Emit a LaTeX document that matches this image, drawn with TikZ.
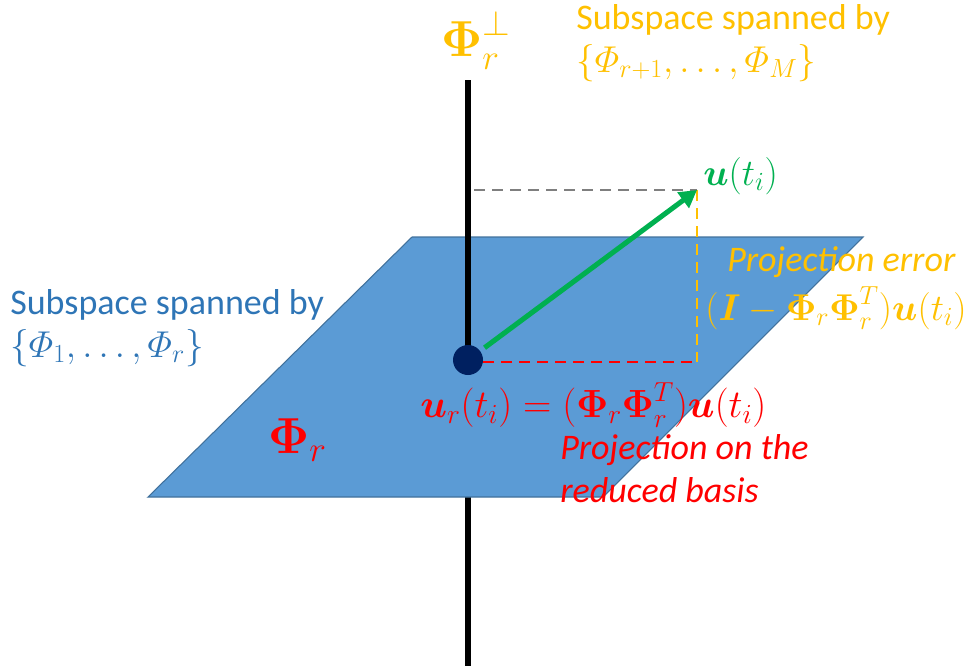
\RequirePackage{fix-cm}
\documentclass[tikz,border=0pt]{standalone}
\usepackage{amsmath,bm}
\usepackage{fontspec}
\setmainfont{Carlito}
\usetikzlibrary{arrows.meta}
\definecolor{myorange}{HTML}{FFC000}
\definecolor{mygreen}{HTML}{00B050}
\definecolor{myblue}{HTML}{2E75B6}
\definecolor{planefill}{HTML}{5B9BD5}
\definecolor{planeedge}{HTML}{41719C}
\definecolor{myred}{HTML}{FF0000}
\definecolor{navy}{HTML}{002060}
\definecolor{mygray}{HTML}{7F7F7F}
\tikzset{
  lbl/.style={inner sep=0pt, anchor=west, font=\fontsize{27}{31}\selectfont},
  mlbl/.style={inner sep=0pt, anchor=west, font=\fontsize{28}{32}\selectfont},
  axisline/.style={line width=4.5pt, black},
  dashline/.style={line width=2.2pt, dash pattern=on 8pt off 5.5pt},
}
\begin{document}
\begin{tikzpicture}[x=0.75pt,y=-0.75pt]
\useasboundingbox (0,0) rectangle (969,671);
% axis
\coordinate (top) at (468,80);
\coordinate (bot) at (468,666);
\draw[axisline] (top) -- (bot);
% plane
\filldraw[fill=planefill, draw=planeedge, line width=0.8pt]
  (412,237) -- (863,237) -- (603,497) -- (148,497) -- cycle;
% dot and top part of axis
\draw[axisline] (top) -- (468,360);
\node[circle, fill=navy, minimum size=22.5pt, inner sep=0pt] (dot) at (468,360) {};
% corners
\coordinate (tip) at (697,190);
\coordinate (proj) at (697,362);
\coordinate (axpt) at (474,190);
\draw[dashline, mygray] (axpt) -- (tip);
\draw[dashline, myorange] (tip) -- (proj);
\draw[dashline, myred] (dot.east |- proj) -- (proj);
\draw[line width=3.8pt, mygreen, -{Triangle[length=13pt,width=14pt]}, shorten <=4pt] (dot) -- (tip);
% labels
\node[lbl, text=myorange, font=\fontsize{38}{42}\selectfont] (perp) at (441,40) {$\bm{\Phi}_{r}^{\perp}$};
\node[lbl, text=myorange] (sub1) at (576,20) {Subspace spanned by};
\node[mlbl, text=myorange] (sub1b) at (576,63) {$\{\varPhi_{r+1},\ldots,\varPhi_{M}\}$};
\node[mlbl, text=mygreen] (ulab) at (703,176) {$\bm{u}(t_i)$};
\node[lbl, text=myorange] (perr) at (727,262) {\itshape Projection error};
\node[mlbl, text=myorange] (perreq) at (705,308) {$(\bm{I}-\bm{\Phi}_r\bm{\Phi}_r^{T})\bm{u}(t_i)$};
\node[lbl, text=myblue] (sub2) at (10,305) {Subspace spanned by};
\node[mlbl, text=myblue] (sub2b) at (10,348) {$\{\varPhi_{1},\ldots,\varPhi_{r}\}$};
\node[mlbl, text=myred, font=\fontsize{29.5}{33}\selectfont] (ureq) at (420,405) {$\bm{u}_r(t_i)=(\bm{\Phi}_r\bm{\Phi}_r^{T})\bm{u}(t_i)$};
\node[lbl, text=myred] (pon) at (560,450) {\itshape Projection on the};
\node[lbl, text=myred] (rb) at (560,490) {\itshape reduced basis};
\node[lbl, text=myred, font=\fontsize{38}{42}\selectfont] (phir) at (268,440) {$\bm{\Phi}_r$};
\end{tikzpicture}
\end{document}
